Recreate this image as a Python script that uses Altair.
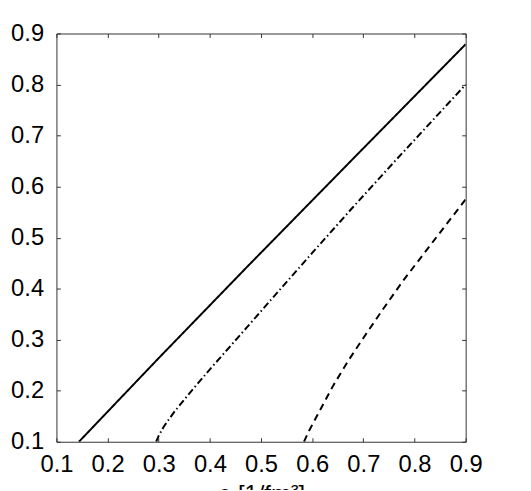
import altair as alt
import pandas as pd

# ---- data ----
series_names = ["solid", "dashdot", "dashed"]

x_solid = [0.144, 0.30, 0.473, 0.695, 0.90]
y_solid = [0.100, 0.264, 0.443, 0.670, 0.879]

x_dashdot = [0.295, 0.30, 0.31, 0.33, 0.36, 0.40, 0.473, 0.521, 0.60, 0.68, 0.759, 0.83, 0.90]
y_dashdot = [0.100, 0.112, 0.13, 0.158, 0.195, 0.242, 0.325, 0.38, 0.47, 0.56, 0.647, 0.724, 0.80]

x_dashed = [0.584, 0.593, 0.61, 0.641, 0.67, 0.699, 0.74, 0.778, 0.84, 0.90]
y_dashed = [0.100, 0.120, 0.152, 0.21, 0.258, 0.302, 0.362, 0.416, 0.497, 0.575]

tick_values = [0.1, 0.2, 0.3, 0.4, 0.5, 0.6, 0.7, 0.8, 0.9]

rows = []
for name, xs, ys in [("solid", x_solid, y_solid),
                     ("dashdot", x_dashdot, y_dashdot),
                     ("dashed", x_dashed, y_dashed)]:
    for i, (a, b) in enumerate(zip(xs, ys)):
        rows.append({"series": name, "x": a, "y": b, "i": i})
df = pd.DataFrame(rows)

FONT = "Liberation Sans"
AX = "#333333"

x_scale = alt.Scale(domain=[0.1, 0.9], nice=False, zero=False)
y_scale = alt.Scale(domain=[0.1, 0.9], nice=False, zero=False)

common_axis = dict(values=tick_values, format=".1f", offset=-4, tickSize=4,
                   tickColor=AX, tickWidth=1, domain=False, grid=False,
                   labelFont=FONT, labelFontSize=24, labelColor="black",
                   labelFlush=False, labelOverlap=False)

lines = alt.Chart(df).mark_line(strokeWidth=2, color="black", clip=True).encode(
    x=alt.X("x:Q", scale=x_scale,
            axis=alt.Axis(orient="bottom", labelPadding=11, title="ρ [1/fm³]",
                          titleFont=FONT, titleFontSize=24, titleFontWeight="normal",
                          titleColor="black", titlePadding=6, **common_axis)),
    y=alt.Y("y:Q", scale=y_scale,
            axis=alt.Axis(orient="left", labelPadding=13, title=None, **common_axis)),
    strokeDash=alt.StrokeDash("series:N",
                              scale=alt.Scale(domain=series_names,
                                              range=[[1, 0], [7, 3, 1.5, 3], [7, 5]]),
                              legend=None),
    order="i:Q",
)

mirror_axis = dict(values=tick_values, offset=-4, tickSize=4, tickColor=AX, tickWidth=1,
                   domain=False, grid=False, labels=False, title=None)

frame = alt.Chart(df).mark_line(opacity=0).encode(
    x=alt.X("x:Q", scale=x_scale, axis=alt.Axis(orient="top", **mirror_axis)),
    y=alt.Y("y:Q", scale=y_scale, axis=alt.Axis(orient="right", **mirror_axis)),
)

chart = alt.layer(lines, frame).resolve_axis(
    x="independent", y="independent"
).properties(
    width=414, height=413,
    autosize=alt.AutoSizeParams(type="none"),
    padding={"left": 49, "top": 23, "right": 58, "bottom": 46},
).configure_view(stroke=AX, strokeWidth=1)

chart.save("out.html", embed_options={"renderer": "svg", "actions": False})
